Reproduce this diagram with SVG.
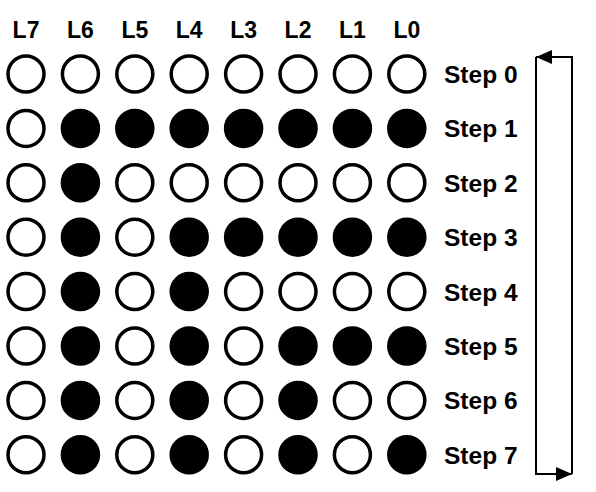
<svg xmlns="http://www.w3.org/2000/svg" width="596" height="492" viewBox="0 0 596 492">
<defs>
<style>
.t{font-family:"Liberation Sans",Arial,sans-serif;font-weight:bold;font-size:23px;fill:#000}
.s{font-size:24.5px}
.o{fill:#fff;stroke:#000;stroke-width:3.5}
.f{fill:#000;stroke:#000;stroke-width:3.5}
.c{fill:none;stroke:#000;stroke-width:2}
</style>
<marker id="ah" viewBox="0 0 16 14" refX="16" refY="7" markerWidth="16" markerHeight="14" markerUnits="userSpaceOnUse" orient="auto">
<path d="M0,0 L16,7 L0,14 Z" fill="#000"/>
</marker>
</defs>
<rect width="596" height="492" fill="#fff"/>
<g id="headers" class="t" text-anchor="middle">
<text x="26" y="38">L7</text>
<text x="80.4" y="38">L6</text>
<text x="134.8" y="38">L5</text>
<text x="189.2" y="38">L4</text>
<text x="243.6" y="38">L3</text>
<text x="298" y="38">L2</text>
<text x="352.4" y="38">L1</text>
<text x="406.8" y="38">L0</text>
</g>
<g id="step0">
<circle class="o" cx="26" cy="74" r="18"/><circle class="o" cx="80.4" cy="74" r="18"/><circle class="o" cx="134.8" cy="74" r="18"/><circle class="o" cx="189.2" cy="74" r="18"/><circle class="o" cx="243.6" cy="74" r="18"/><circle class="o" cx="298" cy="74" r="18"/><circle class="o" cx="352.4" cy="74" r="18"/><circle class="o" cx="406.8" cy="74" r="18"/>
<text class="t s" x="444" y="83">Step 0</text>
</g>
<g id="step1">
<circle class="o" cx="26" cy="128.4" r="18"/><circle class="f" cx="80.4" cy="128.4" r="18"/><circle class="f" cx="134.8" cy="128.4" r="18"/><circle class="f" cx="189.2" cy="128.4" r="18"/><circle class="f" cx="243.6" cy="128.4" r="18"/><circle class="f" cx="298" cy="128.4" r="18"/><circle class="f" cx="352.4" cy="128.4" r="18"/><circle class="f" cx="406.8" cy="128.4" r="18"/>
<text class="t s" x="444" y="137.4">Step 1</text>
</g>
<g id="step2">
<circle class="o" cx="26" cy="182.8" r="18"/><circle class="f" cx="80.4" cy="182.8" r="18"/><circle class="o" cx="134.8" cy="182.8" r="18"/><circle class="o" cx="189.2" cy="182.8" r="18"/><circle class="o" cx="243.6" cy="182.8" r="18"/><circle class="o" cx="298" cy="182.8" r="18"/><circle class="o" cx="352.4" cy="182.8" r="18"/><circle class="o" cx="406.8" cy="182.8" r="18"/>
<text class="t s" x="444" y="191.8">Step 2</text>
</g>
<g id="step3">
<circle class="o" cx="26" cy="237.2" r="18"/><circle class="f" cx="80.4" cy="237.2" r="18"/><circle class="o" cx="134.8" cy="237.2" r="18"/><circle class="f" cx="189.2" cy="237.2" r="18"/><circle class="f" cx="243.6" cy="237.2" r="18"/><circle class="f" cx="298" cy="237.2" r="18"/><circle class="f" cx="352.4" cy="237.2" r="18"/><circle class="f" cx="406.8" cy="237.2" r="18"/>
<text class="t s" x="444" y="246.2">Step 3</text>
</g>
<g id="step4">
<circle class="o" cx="26" cy="291.6" r="18"/><circle class="f" cx="80.4" cy="291.6" r="18"/><circle class="o" cx="134.8" cy="291.6" r="18"/><circle class="f" cx="189.2" cy="291.6" r="18"/><circle class="o" cx="243.6" cy="291.6" r="18"/><circle class="o" cx="298" cy="291.6" r="18"/><circle class="o" cx="352.4" cy="291.6" r="18"/><circle class="o" cx="406.8" cy="291.6" r="18"/>
<text class="t s" x="444" y="300.6">Step 4</text>
</g>
<g id="step5">
<circle class="o" cx="26" cy="346" r="18"/><circle class="f" cx="80.4" cy="346" r="18"/><circle class="o" cx="134.8" cy="346" r="18"/><circle class="f" cx="189.2" cy="346" r="18"/><circle class="o" cx="243.6" cy="346" r="18"/><circle class="f" cx="298" cy="346" r="18"/><circle class="f" cx="352.4" cy="346" r="18"/><circle class="f" cx="406.8" cy="346" r="18"/>
<text class="t s" x="444" y="355">Step 5</text>
</g>
<g id="step6">
<circle class="o" cx="26" cy="400.4" r="18"/><circle class="f" cx="80.4" cy="400.4" r="18"/><circle class="o" cx="134.8" cy="400.4" r="18"/><circle class="f" cx="189.2" cy="400.4" r="18"/><circle class="o" cx="243.6" cy="400.4" r="18"/><circle class="f" cx="298" cy="400.4" r="18"/><circle class="o" cx="352.4" cy="400.4" r="18"/><circle class="o" cx="406.8" cy="400.4" r="18"/>
<text class="t s" x="444" y="409.4">Step 6</text>
</g>
<g id="step7">
<circle class="o" cx="26" cy="454.8" r="18"/><circle class="f" cx="80.4" cy="454.8" r="18"/><circle class="o" cx="134.8" cy="454.8" r="18"/><circle class="f" cx="189.2" cy="454.8" r="18"/><circle class="o" cx="243.6" cy="454.8" r="18"/><circle class="f" cx="298" cy="454.8" r="18"/><circle class="o" cx="352.4" cy="454.8" r="18"/><circle class="f" cx="406.8" cy="454.8" r="18"/>
<text class="t s" x="444" y="463.8">Step 7</text>
</g>
<g id="connectors">
<path class="c" d="M536,57 L536,474 L572,474" marker-end="url(#ah)"/>
<path class="c" d="M572,474 L572,57 L536,57" marker-end="url(#ah)"/>
</g>
</svg>
